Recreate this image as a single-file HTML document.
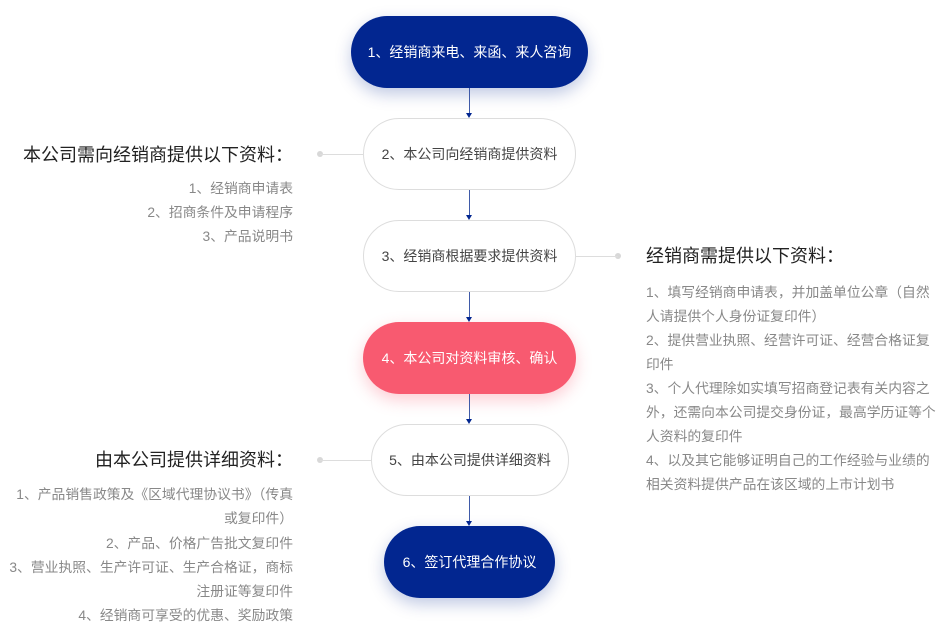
<!DOCTYPE html>
<html><head><meta charset="utf-8"><style>
body{margin:0;width:940px;height:628px;background:#fff;position:relative;overflow:hidden;font-family:"Liberation Sans","Noto Sans CJK SC",sans-serif;}
.n{position:absolute;height:72px;border-radius:36px;box-sizing:border-box;display:flex;align-items:center;justify-content:center;font-size:14px;white-space:nowrap;}
.w{background:#fff;border:1px solid #ddd;color:#444;}
.b{background:#022690;color:#fff;box-shadow:0 6px 16px rgba(2,38,144,0.25);}
.r{background:#f85a70;color:#fff;box-shadow:0 6px 16px rgba(248,90,112,0.3);}
.v{position:absolute;left:469px;width:1px;background:#3f5aa8;}
.ah{position:absolute;left:466px;width:0;height:0;border-left:3.5px solid transparent;border-right:3.5px solid transparent;border-top:5px solid #022690;}
.h{position:absolute;left:0;width:1px;height:1px;background:#ddd;}
.dot{position:absolute;width:6px;height:6px;border-radius:3px;background:#d8d8d8;}
.t{position:absolute;white-space:nowrap;font-size:18px;color:#222;line-height:20px;}
.i{position:absolute;white-space:nowrap;font-size:13.8px;color:#888;line-height:24px;}
.L{right:647px;text-align:right;}
.R{left:646px;}
</style></head><body>
<div class="n b" style="left:351px;top:16px;width:237px;">1、经销商来电、来函、来人咨询</div>
<div class="n w" style="left:363px;top:118px;width:213px;">2、本公司向经销商提供资料</div>
<div class="n w" style="left:363px;top:220px;width:213px;">3、经销商根据要求提供资料</div>
<div class="n r" style="left:363px;top:322px;width:213px;">4、本公司对资料审核、确认</div>
<div class="n w" style="left:371px;top:424px;width:198px;">5、由本公司提供详细资料</div>
<div class="n b" style="left:384px;top:526px;width:171px;">6、签订代理合作协议</div>

<div class="v" style="top:88px;height:25px"></div><div class="ah" style="top:113px"></div>
<div class="v" style="top:190px;height:25px"></div><div class="ah" style="top:215px"></div>
<div class="v" style="top:292px;height:25px"></div><div class="ah" style="top:317px"></div>
<div class="v" style="top:394px;height:25px"></div><div class="ah" style="top:419px"></div>
<div class="v" style="top:496px;height:25px"></div><div class="ah" style="top:521px"></div>

<div class="dot" style="left:317px;top:151px"></div><div class="h" style="left:320px;top:154px;width:43px"></div>
<div class="dot" style="left:615px;top:253px"></div><div class="h" style="left:576px;top:256px;width:42px"></div>
<div class="dot" style="left:317px;top:457px"></div><div class="h" style="left:320px;top:460px;width:51px"></div>

<div class="t L" style="top:145px">本公司需向经销商提供以下资料：</div>
<div class="i L" style="top:177px">1、经销商申请表</div>
<div class="i L" style="top:201px">2、招商条件及申请程序</div>
<div class="i L" style="top:225px">3、产品说明书</div>

<div class="t R" style="top:246px">经销商需提供以下资料：</div>
<div class="i R" style="top:281px">1、填写经销商申请表，并加盖单位公章（自然</div>
<div class="i R" style="top:305px">人请提供个人身份证复印件）</div>
<div class="i R" style="top:329px">2、提供营业执照、经营许可证、经营合格证复</div>
<div class="i R" style="top:353px">印件</div>
<div class="i R" style="top:377px">3、个人代理除如实填写招商登记表有关内容之</div>
<div class="i R" style="top:401px">外，还需向本公司提交身份证，最高学历证等个</div>
<div class="i R" style="top:425px">人资料的复印件</div>
<div class="i R" style="top:449px">4、以及其它能够证明自己的工作经验与业绩的</div>
<div class="i R" style="top:473px">相关资料提供产品在该区域的上市计划书</div>

<div class="t L" style="top:450px">由本公司提供详细资料：</div>
<div class="i L" style="top:483px">1、产品销售政策及《区域代理协议书》（传真</div>
<div class="i L" style="top:507px">或复印件）</div>
<div class="i L" style="top:532px">2、产品、价格广告批文复印件</div>
<div class="i L" style="top:556px">3、营业执照、生产许可证、生产合格证，商标</div>
<div class="i L" style="top:580px">注册证等复印件</div>
<div class="i L" style="top:604px">4、经销商可享受的优惠、奖励政策</div>
</body></html>
